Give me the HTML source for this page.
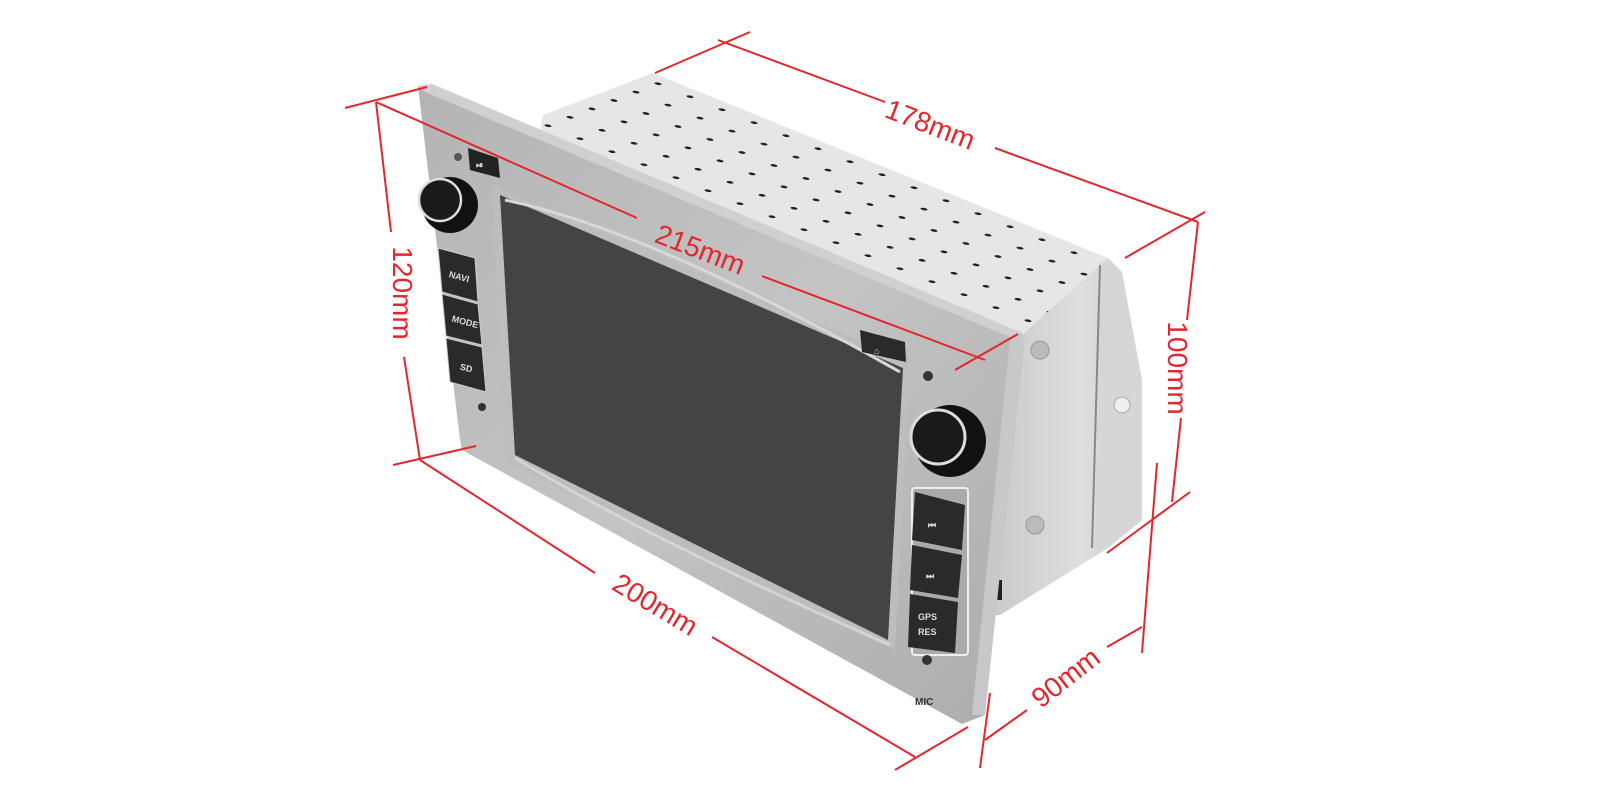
<!DOCTYPE html>
<html><head><meta charset="utf-8"><style>
html,body{margin:0;padding:0;background:#fff;width:1600px;height:800px;overflow:hidden}
svg{display:block}
.d{stroke:#e3262d;stroke-width:2;fill:none}
.t{fill:#e3262d;font-family:"Liberation Sans",sans-serif;font-size:28px}
.b{font-family:"Liberation Sans",sans-serif;fill:#ddd;font-size:9px;font-weight:bold}
</style></head><body>
<svg width="1600" height="800" viewBox="0 0 1600 800">
<defs>
<pattern id="dots" patternUnits="userSpaceOnUse" width="1" height="1" patternTransform="matrix(32,13,-22,8.4,653,73)">
<circle cx="0.5" cy="0.5" r="0.09" fill="#222"/>
</pattern>
<linearGradient id="bz" x1="0" y1="0" x2="1" y2="1">
<stop offset="0" stop-color="#b4b4b4"/><stop offset="0.5" stop-color="#c4c4c4"/><stop offset="1" stop-color="#acacac"/>
</linearGradient>
<linearGradient id="side" x1="0" y1="0" x2="1" y2="0">
<stop offset="0" stop-color="#c8c8c8"/><stop offset="0.6" stop-color="#dedede"/><stop offset="1" stop-color="#cfcfcf"/>
</linearGradient>
</defs>

<polygon points="543,115 653,73 1108,258 1025,335 540,130" fill="#e6e6e6"/>
<polygon points="543,115 653,73 1108,258 1025,335 540,130" fill="url(#dots)"/>
<polygon points="1022,335 1108,258 1122,272 1140,380 1142,520 1108,548 1000,615 985,615" fill="url(#side)"/>
<polygon points="1100,262 1122,272 1142,380 1142,520 1108,548 1095,550" fill="#d6d6d6"/>
<line x1="1100" y1="265" x2="1092" y2="548" stroke="#888" stroke-width="2"/>
<circle cx="1040" cy="350" r="9" fill="#bbb" stroke="#999"/>
<circle cx="1035" cy="525" r="9" fill="#bbb" stroke="#999"/>
<circle cx="1122" cy="405" r="8" fill="#eee" stroke="#aaa"/>
<rect x="988" y="580" width="14" height="20" fill="#222"/>

<polygon points="418,86 432,84 1022,333 1024,345 985,715 962,724 462,450 460,440" fill="url(#bz)"/>
<polygon points="418,86 432,84 1022,333 1012,338 425,92" fill="#d0d0d0"/>
<polygon points="1022,333 1024,345 985,715 972,715 1010,340" fill="#c8c8c8"/>
<polygon points="492,185 910,362 895,650 505,462" fill="#bdbdbd"/>
<polygon points="500,195 903,368 888,640 515,455" fill="#444"/>
<path d="M505,200 Q650,230 900,372" stroke="#d8d8d8" stroke-width="3" fill="none"/>
<path d="M515,458 Q650,540 890,645" stroke="#d4d4d4" stroke-width="3" fill="none"/>

<polygon points="468,148 498,158 500,178 470,170" fill="#222"/>
<text x="476" y="168" class="b" font-size="7">⏯</text>
<circle cx="458" cy="157" r="4" fill="#555"/>
<circle cx="450" cy="205" r="28" fill="#111"/>
<circle cx="440" cy="200" r="21" fill="#1a1a1a" stroke="#ddd" stroke-width="2.5"/>
<polygon points="438,248 475,258 478,302 442,292" fill="#2a2a2a" stroke="#ccc"/>
<polygon points="442,294 478,304 482,345 446,336" fill="#2a2a2a" stroke="#ccc"/>
<polygon points="446,338 482,347 486,392 450,382" fill="#2a2a2a" stroke="#ccc"/>
<text x="449" y="280" class="b" transform="rotate(15 460 276)">NAVI</text>
<text x="452" y="324" class="b" font-size="8" transform="rotate(15 462 320)">MODE</text>
<text x="460" y="371" class="b" transform="rotate(15 466 368)">SD</text>
<circle cx="482" cy="407" r="4" fill="#333"/>
<polygon points="860,330 905,342 906,362 862,352" fill="#2a2a2a"/>
<text x="874" y="354" class="b">⌂</text>
<circle cx="928" cy="376" r="5" fill="#333"/>
<circle cx="950" cy="441" r="36" fill="#111"/>
<circle cx="938" cy="437" r="27" fill="#1a1a1a" stroke="#ddd" stroke-width="3"/>
<rect x="912" y="488" width="56" height="167" rx="3" fill="#aaa" stroke="#eee" stroke-width="2"/>
<polygon points="915,492 965,505 962,550 912,540" fill="#2a2a2a"/>
<polygon points="912,545 962,555 958,598 910,590" fill="#2a2a2a"/>
<polygon points="910,594 958,602 955,653 908,647" fill="#2a2a2a"/>
<text x="928" y="528" class="b" font-size="11">⏮</text>
<text x="926" y="579" class="b" font-size="11">⏭</text>
<text x="918" y="620" class="b" font-size="11">GPS</text>
<text x="918" y="635" class="b" font-size="11">RES</text>
<circle cx="927" cy="660" r="5" fill="#333"/>
<text x="915" y="705" font-family="Liberation Sans,sans-serif" font-size="10" font-weight="bold" fill="#333">MIC</text>

<g class="d">
<line x1="655" y1="73" x2="750" y2="32"/>
<line x1="718" y1="40" x2="885" y2="102"/>
<line x1="995" y1="148" x2="1198" y2="222"/>
<line x1="1125" y1="258" x2="1205" y2="212"/>
<line x1="345" y1="108" x2="427" y2="87"/>
<line x1="376" y1="102" x2="391" y2="232"/>
<line x1="404" y1="357" x2="420" y2="460"/>
<line x1="393" y1="465" x2="476" y2="446"/>
<line x1="376" y1="102" x2="637" y2="218"/>
<line x1="762" y1="276" x2="985" y2="360"/>
<line x1="955" y1="370" x2="1018" y2="334"/>
<line x1="1198" y1="222" x2="1187" y2="320"/>
<line x1="1181" y1="418" x2="1172" y2="502"/>
<line x1="1107" y1="553" x2="1190" y2="492"/>
<line x1="420" y1="460" x2="595" y2="573"/>
<line x1="712" y1="637" x2="915" y2="757"/>
<line x1="895" y1="770" x2="968" y2="727"/>
<line x1="990" y1="693" x2="980" y2="768"/>
<line x1="985" y1="740" x2="1027" y2="710"/>
<line x1="1107" y1="647" x2="1142" y2="627"/>
<line x1="1157" y1="463" x2="1142" y2="653"/>
</g>
<text class="t" x="930" y="134" text-anchor="middle" transform="rotate(21 930 125)">178mm</text>
<text class="t" x="700" y="259" text-anchor="middle" transform="rotate(21 700 250)">215mm</text>
<text class="t" x="402" y="302" text-anchor="middle" transform="rotate(90 402 293)">120mm</text>
<text class="t" x="1177" y="377" text-anchor="middle" transform="rotate(90 1177 368)">100mm</text>
<text class="t" x="655" y="614" text-anchor="middle" transform="rotate(31 655 605)">200mm</text>
<text class="t" x="1066" y="687" text-anchor="middle" transform="rotate(-38 1066 678)">90mm</text>
</svg>
</body></html>
